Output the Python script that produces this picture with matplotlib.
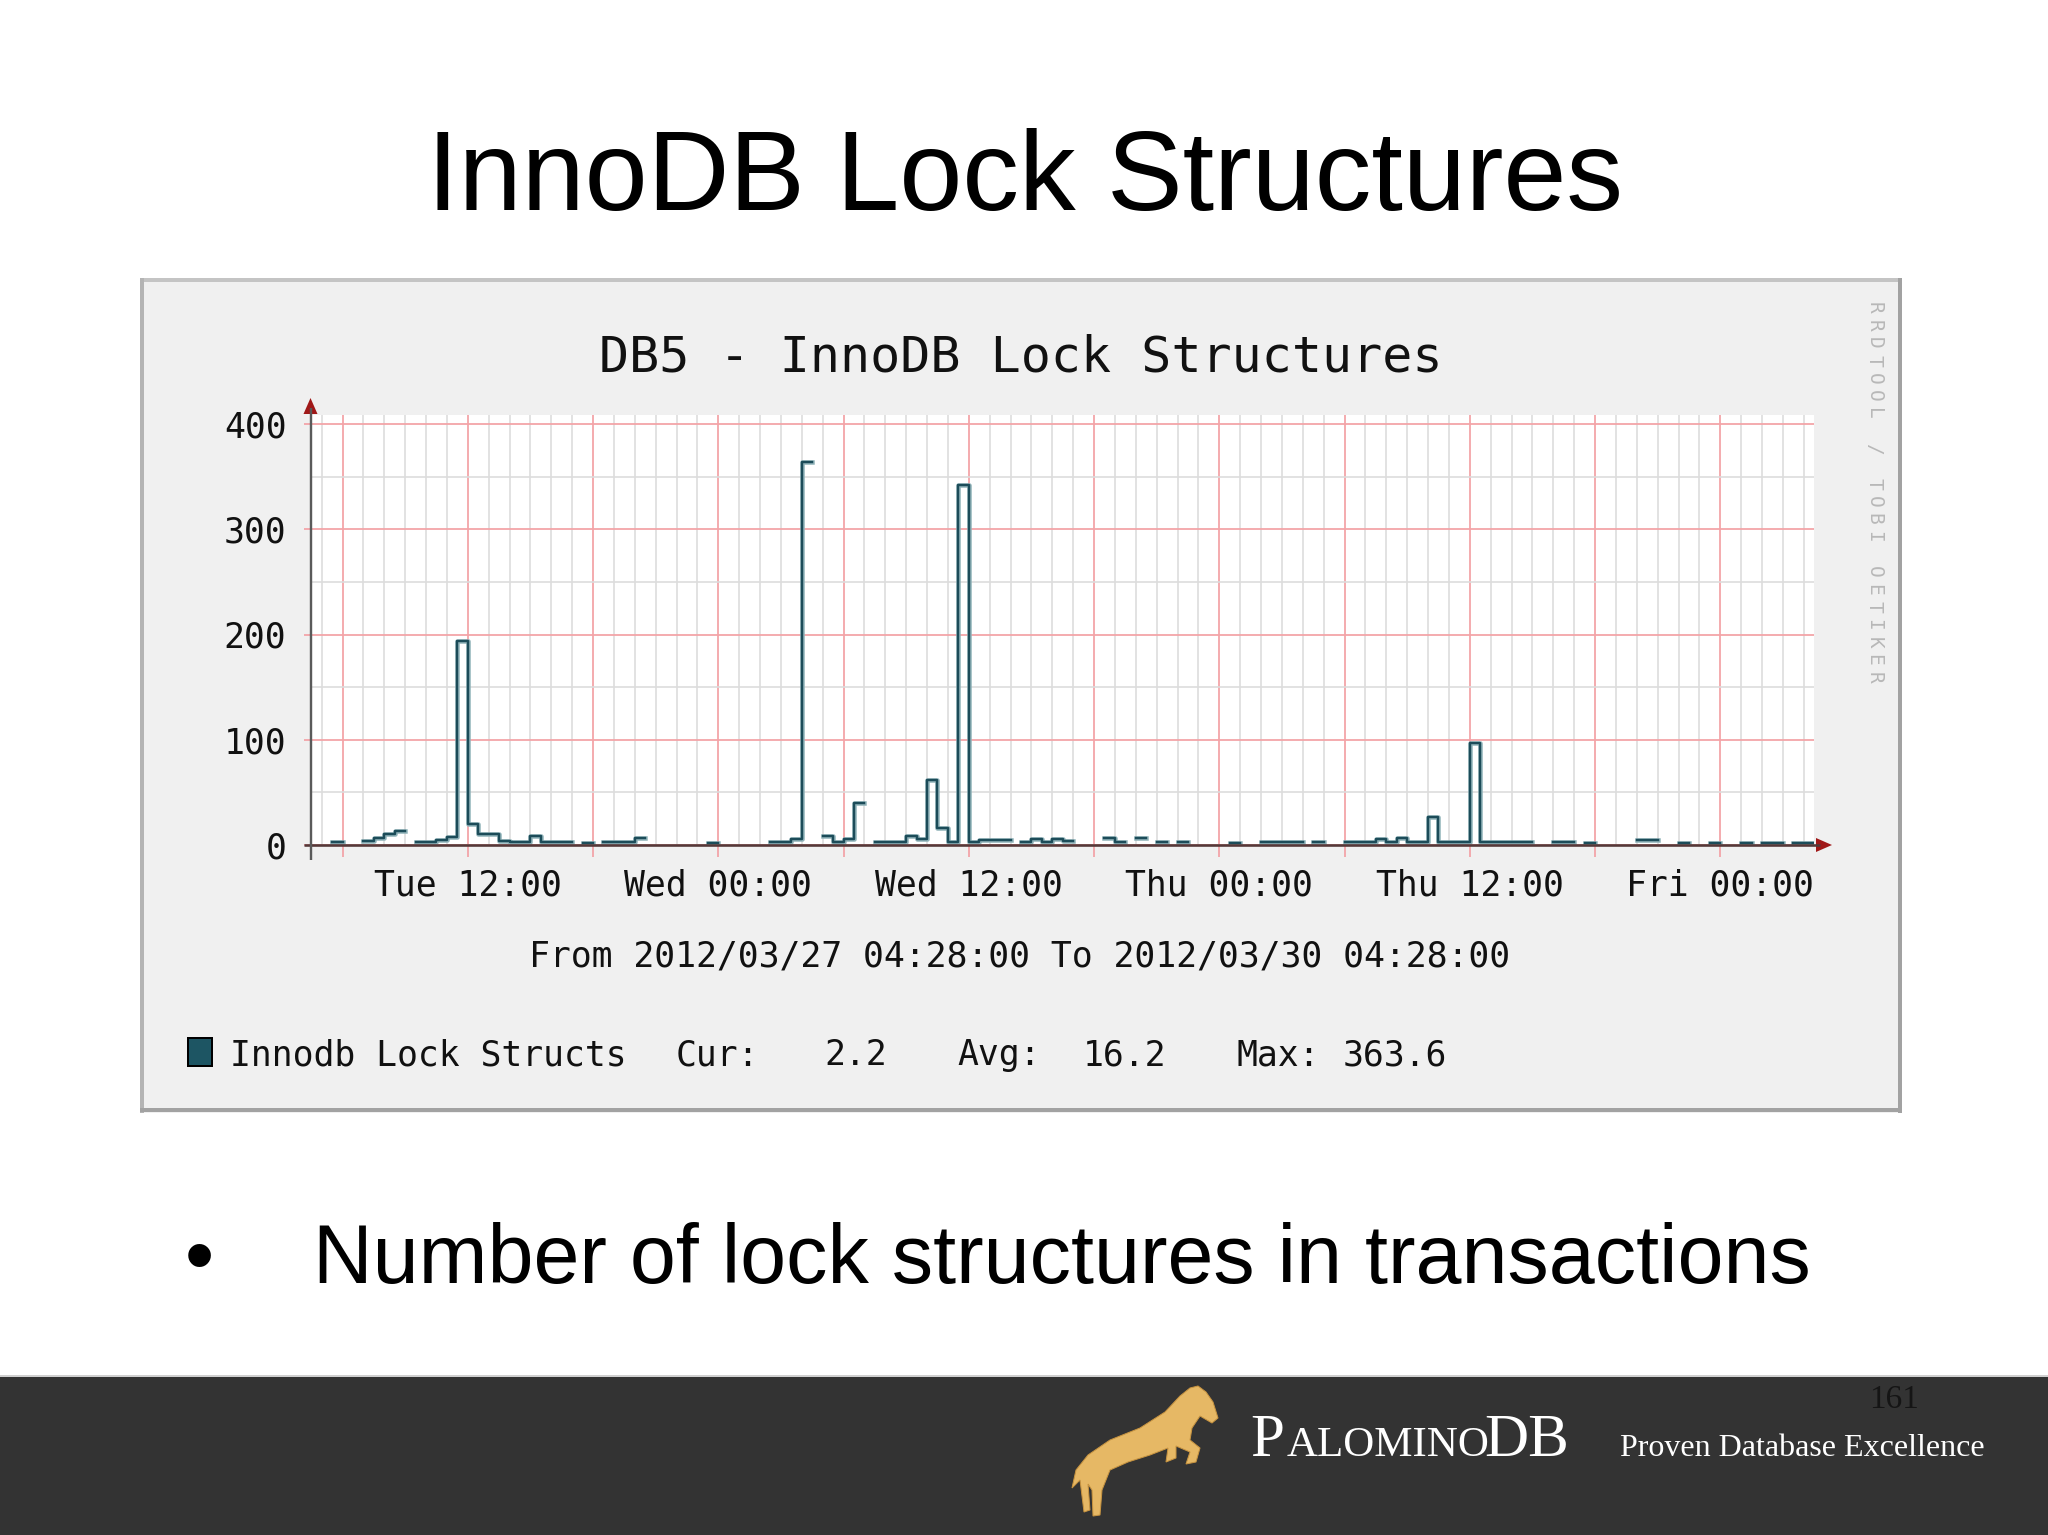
from pathlib import Path
import numpy as np
import matplotlib
matplotlib.use("Agg")
import matplotlib.pyplot as plt
from matplotlib.patches import Rectangle, Polygon
from matplotlib.ticker import MultipleLocator, FixedLocator, FixedFormatter

plt.rcParams["font.family"] = ["DejaVu Sans Mono"]

# Data -------
nan = np.nan

# hours counted from Tue 2012-03-27 00:00, one 30 min slot per value, first slot 04:00
slot_start_hour = 4.0
slot_hours = 0.5
lock_structs = [
    nan, nan, nan, 3, nan, nan, 4, 7, 10, 13, nan, 3,      # Tue 04-10
    3, 5, 8, 194, 20, 10, 10, 4, 3, 3, 9, 3,               # Tue 10-16
    3, 3, nan, 2, nan, 3, 3, 3, 7, nan, nan, nan,          # Tue 16-22
    nan, nan, nan, 2, nan, nan, nan, nan, nan, 3, 3, 6,    # Tue 22-Wed 04
    363.6, nan, 9, 3, 6, 40, nan, 3, 3, 3, 9, 6,           # Wed 04-10
    62, 16, 3, 342, 3, 5, 5, 5, nan, 3, 6, 3,              # Wed 10-16
    6, 4, nan, nan, nan, 7, 3, nan, 7, nan, 3, nan,        # Wed 16-22
    3, nan, nan, nan, nan, 2, nan, nan, 3, 3, 3, 3,        # Wed 22-Thu 04
    nan, 3, nan, nan, 3, 3, 3, 6, 3, 7, 3, 3,              # Thu 04-10
    27, 3, 3, 3, 97, 3, 3, 3, 3, 3, nan, nan,              # Thu 10-16
    3, 3, nan, 2, nan, nan, nan, nan, 5, 5, nan, nan,      # Thu 16-22
    2, nan, nan, 2, nan, nan, 2, nan, 2, 2, nan, 2,        # Thu 22-Fri 04
    2.2,                                                   # Fri 04
]

view_start = 4 + 28 / 60   # 2012/03/27 04:28
view_hours = 72

day_ticks = [12, 24, 36, 48, 60, 72]
day_labels = ["Tue 12:00", "Wed 00:00", "Wed 12:00", "Thu 00:00", "Thu 12:00", "Fri 00:00"]
y_ticks = [0, 100, 200, 300, 400]

legend_name = "Innodb Lock Structs"
legend_cur = "2.2"
legend_avg = "16.2"
legend_max = "363.6"


# Helper ---------
W, H = 2048, 1535
def px(v):
    # pixels -> points at dpi 100
    return v * 72 / 100


fig = plt.figure(figsize=(W / 100, H / 100), dpi=100)
fig.patch.set_facecolor("white")

# background layer in pixel coords
bg = fig.add_axes([0, 0, 1, 1], zorder=0)
bg.set_xlim(0, W)
bg.set_ylim(H, 0)
bg.axis("off")

# slide title and bullet
bg.text(1025, 210, "InnoDB Lock Structures", family="Liberation Sans", fontsize=81.5,
        ha="center", va="baseline", color="black")
bg.text(199, 1283, "\u2022", family="Liberation Sans", fontsize=60, ha="center", va="baseline")
bg.text(313, 1283, "Number of lock structures in transactions", family="Liberation Sans",
        fontsize=59.5, ha="left", va="baseline")

# rrdtool panel
bg.add_patch(Rectangle((140, 278), 1762, 835, facecolor="#f0f0f0", edgecolor="none"))
bg.plot([140, 1902], [280, 280], color="#c4c4c4", lw=px(4), solid_capstyle="butt")
bg.plot([142, 142], [278, 1113], color="#b4b4b4", lw=px(4), solid_capstyle="butt")
bg.plot([140, 1902], [1110, 1110], color="#a2a2a2", lw=px(4), solid_capstyle="butt")
bg.plot([1900, 1900], [278, 1113], color="#a2a2a2", lw=px(4), solid_capstyle="butt")

bg.text(1021, 371, "DB5 - InnoDB Lock Structures", fontsize=36, ha="center", va="baseline",
        color="#111111")
bg.text(1020, 966, "From 2012/03/27 04:28:00 To 2012/03/30 04:28:00", fontsize=25,
        ha="center", va="baseline", color="#111111")

# watermark
for i, ch in enumerate("RRDTOOL / TOBI OETIKER"):
    bg.text(1874, 308 + i * 17.6, ch, fontsize=14, rotation=270, ha="center", va="center",
            color="#b8b8b8")

# legend
bg.add_patch(Rectangle((188, 1038), 24, 28, facecolor="#1d5563", edgecolor="black", lw=px(2)))
for x, s in [(230, legend_name), (676, "Cur:"), (824, legend_cur), (957, "Avg:"),
             (1083, legend_avg), (1237, "Max:"), (1343, legend_max)]:
    bg.text(x, 1065, s, fontsize=25, ha="left", va="baseline", color="#111111")

# footer band
bg.add_patch(Rectangle((0, 1377), W, H - 1377, facecolor="#333333", edgecolor="none"))
bg.plot([0, W], [1376, 1376], color="#d0d0d0", lw=px(2))
horse = [(1198, 1386), (1206, 1392), (1213, 1402), (1218, 1418), (1212, 1423), (1200, 1416),
         (1192, 1428), (1190, 1440), (1200, 1448), (1196, 1462), (1186, 1464), (1190, 1452),
         (1176, 1446), (1176, 1458), (1166, 1462), (1168, 1448), (1150, 1455), (1128, 1462),
         (1110, 1470), (1102, 1490), (1100, 1515), (1093, 1516), (1092, 1490), (1088, 1484),
         (1090, 1510), (1084, 1512), (1080, 1480), (1072, 1488), (1076, 1470), (1088, 1455),
         (1110, 1440), (1140, 1428), (1165, 1412), (1180, 1396), (1190, 1388)]
bg.add_patch(Polygon(horse, closed=True, facecolor="#e6b865", edgecolor="#c89440", lw=px(1)))
bg.text(1250, 1456, "P", family="Liberation Serif", fontsize=44, color="white", va="baseline")
bg.text(1287, 1456, "ALOMINO", family="Liberation Serif", fontsize=31, color="white", va="baseline")
bg.text(1484, 1456, "DB", family="Liberation Serif", fontsize=44, color="white", va="baseline")
bg.text(1620, 1456, "Proven Database Excellence", family="Liberation Serif", fontsize=23,
        color="white", va="baseline")
bg.text(1894, 1400, "161", family="Liberation Serif", fontsize=24, color="#151515",
        ha="center", va="center")


# Plot area ---------
left_px, right_px, top_px, zero_px = 310.5, 1813.5, 415, 845
ax = fig.add_axes([left_px / W, (H - zero_px) / H, (right_px - left_px) / W,
                   (zero_px - top_px) / H], zorder=1)
ax.set_facecolor("white")
ax.set_xlim(view_start, view_start + view_hours)
ax.set_ylim(0, 400 * (zero_px - top_px) / (zero_px - 424))

values = np.array(lock_structs, dtype=float)
edges = slot_start_hour + slot_hours * np.arange(len(values) + 1)
ax.step(edges, np.append(values, values[-1]), where="post", color="#8fb2b8", lw=px(4.5),
        zorder=4)
ax.step(edges, np.append(values, values[-1]), where="post", color="#1c4c59", lw=px(2.4),
        zorder=5)

major_x = list(range(6, 73, 6))
major_lbl = [day_labels[day_ticks.index(t)] if t in day_ticks else "" for t in major_x]
ax.xaxis.set_major_locator(FixedLocator(major_x))
ax.xaxis.set_major_formatter(FixedFormatter(major_lbl))
ax.xaxis.set_minor_locator(MultipleLocator(1))
ax.set_yticks(y_ticks)
ax.yaxis.set_minor_locator(MultipleLocator(50))

ax.grid(which="minor", color="#dcdcdc", lw=px(1.6), zorder=1)
ax.grid(which="major", color="#f3a4a8", lw=px(1.8), zorder=2)
ax.set_axisbelow(True)

ax.tick_params(axis="x", which="major", length=px(12), width=px(1.8), color="#f3a4a8",
               pad=px(12), labelsize=25, labelcolor="#111111")
ax.tick_params(axis="y", which="major", length=px(7), width=px(1.8), color="#f3a4a8",
               pad=px(17), labelsize=25, labelcolor="#111111")
ax.tick_params(which="minor", length=0)
for s in ax.spines.values():
    s.set_visible(False)

# axes lines and arrows on top
top = fig.add_axes([0, 0, 1, 1], zorder=2)
top.set_xlim(0, W)
top.set_ylim(H, 0)
top.axis("off")
top.patch.set_alpha(0)
top.plot([304, 1820], [zero_px, zero_px], color="#553838", lw=px(2.6), solid_capstyle="butt")
top.plot([left_px, left_px], [860, 408], color="#5a5a5a", lw=px(2.4), solid_capstyle="butt")
top.add_patch(Polygon([(1816, 838), (1832, 845), (1816, 852)], closed=True,
                      facecolor="#a01818", edgecolor="none"))
top.add_patch(Polygon([(left_px - 7, 414), (left_px, 398), (left_px + 7, 414)], closed=True,
                      facecolor="#a01818", edgecolor="none"))

plt.savefig(Path("out.png"), dpi=100)
